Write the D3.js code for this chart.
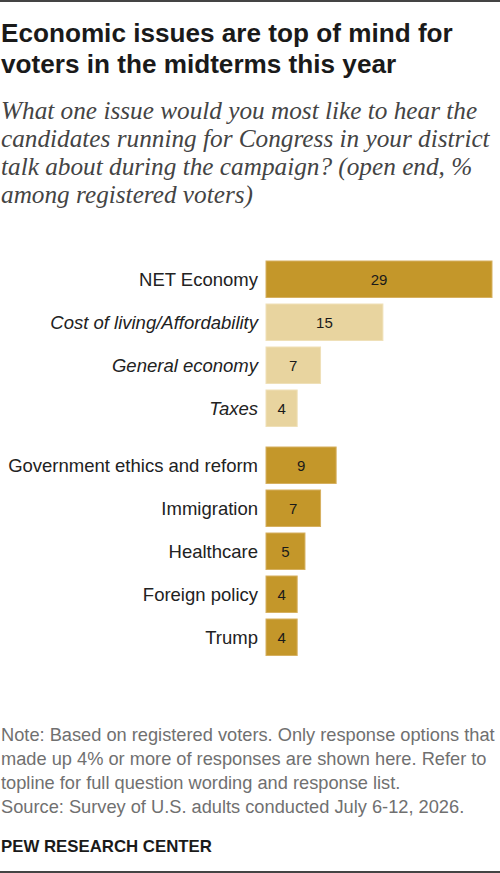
<!DOCTYPE html>
<html>
<head>
<meta charset="utf-8">
<script src="https://cdn.jsdelivr.net/npm/d3@7"></script>
<style>
  body { margin: 0; background: #fff; }
  svg { display: block; }
</style>
</head>
<body>
<div class="js-vis"></div>
<script>
// Data
const categories = ["NET Economy", "Cost of living/Affordability", "General economy", "Taxes",
    "Government ethics and reform", "Immigration", "Healthcare", "Foreign policy", "Trump"]
const values = [29, 15, 7, 4, 9, 7, 5, 4, 4]
const isSub = [false, true, true, true, false, false, false, false, false]

const titleLines = ["Economic issues are top of mind for", "voters in the midterms this year"]
const subtitleLines = ["What one issue would you most like to hear the",
    "candidates running for Congress in your district",
    "talk about during the campaign? (open end, %",
    "among registered voters)"]
const noteLines = ["Note: Based on registered voters. Only response options that",
    "made up 4% or more of responses are shown here. Refer to",
    "topline for full question wording and response list.",
    "Source: Survey of U.S. adults conducted July 6-12, 2026."]
const brand = "PEW RESEARCH CENTER"

const W = 500, H = 873
const sans = "'Liberation Sans', Arial, sans-serif",
    serif = "'Liberation Serif', Georgia, serif"

const svg = d3.select(".js-vis").append("svg")
  .attr("width", W)
  .attr("height", H)

// frame lines
svg.append("rect").attr("x", 0).attr("y", 0).attr("width", W).attr("height", 2).attr("fill", "#444")
svg.append("rect").attr("x", 0).attr("y", H - 2).attr("width", W).attr("height", 2).attr("fill", "#444")

// scale a text block's font so its widest line hits a target width
function textBlock(lines, opts) {
  const g = svg.append("g")
  const t = g.selectAll("text")
    .data(lines)
  .enter().append("text")
    .attr("x", opts.x)
    .attr("y", (d, i) => opts.y + i * opts.lh)
    .style("font-family", opts.family)
    .style("font-size", opts.size + "px")
    .style("font-weight", opts.weight || "normal")
    .style("font-style", opts.style || "normal")
    .attr("fill", opts.color)
    .text(d => d)
  if (opts.fit) {
    const w = t.nodes()[opts.fit[0]].getComputedTextLength()
    t.style("font-size", (opts.size * opts.fit[1] / w) + "px")
  }
  return t
}

textBlock(titleLines, { x: 1, y: 42, lh: 31, family: sans, size: 23, weight: "bold", color: "#1a1a1a", fit: [0, 452] })
textBlock(subtitleLines, { x: 1, y: 118.5, lh: 28.2, family: serif, size: 19, style: "italic", color: "#444", fit: [1, 489] })
textBlock(noteLines, { x: 1, y: 741, lh: 24, family: sans, size: 15, color: "#707070", fit: [0, 494] })
textBlock([brand], { x: 1, y: 852, lh: 0, family: sans, size: 16, weight: "bold", color: "#1a1a1a", fit: [0, 211] })

// bars
const x = d3.scaleLinear()
  .domain([0, 29])
  .range([266, 492])

const gap = 14
const step = 43
const yPos = i => 261 + i * step + (i >= 4 ? gap : 0)
const barH = 36.5

const rows = svg.append("g")
  .selectAll("g")
  .data(categories.map((c, i) => ({ c, v: values[i], sub: isSub[i], i })))
.enter().append("g")
  .attr("transform", d => "translate(0," + yPos(d.i) + ")")

rows.append("rect")
  .attr("x", x(0))
  .attr("width", d => x(d.v) - x(0))
  .attr("height", barH)
  .attr("fill", d => d.sub ? "#e8d49f" : "#c4972a")
  .attr("stroke", d => d.sub ? "#efe0b8" : "#d6b060")
  .attr("stroke-width", 1)

rows.append("text")
  .attr("x", d => (x(0) + x(d.v)) / 2)
  .attr("y", barH / 2)
  .attr("dy", "0.35em")
  .attr("text-anchor", "middle")
  .style("font-family", sans)
  .style("font-size", "15px")
  .attr("fill", "#1a1a1a")
  .text(d => d.v)

const labels = rows.append("text")
  .attr("x", 258)
  .attr("y", barH / 2)
  .attr("dy", "0.35em")
  .attr("text-anchor", "end")
  .style("font-family", sans)
  .style("font-size", "16px")
  .style("font-style", d => d.sub ? "italic" : "normal")
  .attr("fill", "#222")
  .text(d => d.c)

// fit label size to the widest label
const lw = labels.nodes()[4].getComputedTextLength()
labels.style("font-size", (16 * 250 / lw) + "px")
</script>
</body>
</html>
